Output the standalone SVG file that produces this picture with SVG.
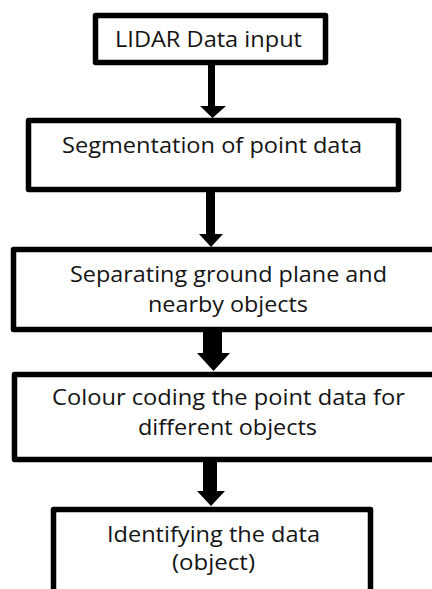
<svg xmlns="http://www.w3.org/2000/svg" width="432" height="589" viewBox="0 0 432 589">
  <style>
    .box { fill: #ffffff; stroke: #000000; stroke-width: 5.5; stroke-linejoin: round; }
    .lbl { font-family: "Open Sans", "Liberation Sans", sans-serif; font-size: 21.5px; fill: #141414; text-anchor: middle; }
    .arrow { fill: #000000; }
  </style>
  <rect width="432" height="589" fill="#ffffff"/>

  <!-- connectors: thick block arrows between steps -->
  <g id="connectors">
    <polygon class="arrow" points="208,65 215,65 215,106 226,106 212.5,118 200,106 208,106"/>
    <polygon class="arrow" points="206,192 215,192 215,234 223,234 211,247 199,234 206,234"/>
    <polygon class="arrow" points="203,332 222,332 222,353 230,353 213.5,371 197,353 203,353"/>
    <polygon class="arrow" points="203,462 217,462 217,491 225,491 211,506 197,491 203,491"/>
  </g>

  <g id="node-lidar-input">
    <rect class="box" x="95.5" y="15.5" width="230" height="47"/>
    <text class="lbl" x="208.5" y="47" textLength="187" lengthAdjust="spacingAndGlyphs">LIDAR Data input</text>
  </g>

  <g id="node-segmentation">
    <rect class="box" x="28.5" y="120.5" width="370" height="69"/>
    <text class="lbl" x="212" y="153" textLength="300" lengthAdjust="spacingAndGlyphs">Segmentation of point data</text>
  </g>

  <g id="node-ground-separation">
    <rect class="box" x="13.5" y="249.5" width="430" height="80"/>
    <text class="lbl" x="228.5" y="282" textLength="317" lengthAdjust="spacingAndGlyphs">Separating ground plane and</text>
    <text class="lbl" x="228" y="312" textLength="160" lengthAdjust="spacingAndGlyphs">nearby objects</text>
  </g>

  <g id="node-colour-coding">
    <rect class="box" x="14.5" y="374.5" width="430" height="85"/>
    <text class="lbl" x="228.5" y="405" textLength="353" lengthAdjust="spacingAndGlyphs">Colour coding the point data for</text>
    <text class="lbl" x="227.5" y="435" textLength="179" lengthAdjust="spacingAndGlyphs">different objects</text>
  </g>

  <g id="node-identification">
    <rect class="box" x="53.5" y="509.5" width="317" height="100"/>
    <text class="lbl" x="213.5" y="542" textLength="213" lengthAdjust="spacingAndGlyphs">Identifying the data</text>
    <text class="lbl" x="213.5" y="570" textLength="83" lengthAdjust="spacingAndGlyphs">(object)</text>
  </g>
</svg>
